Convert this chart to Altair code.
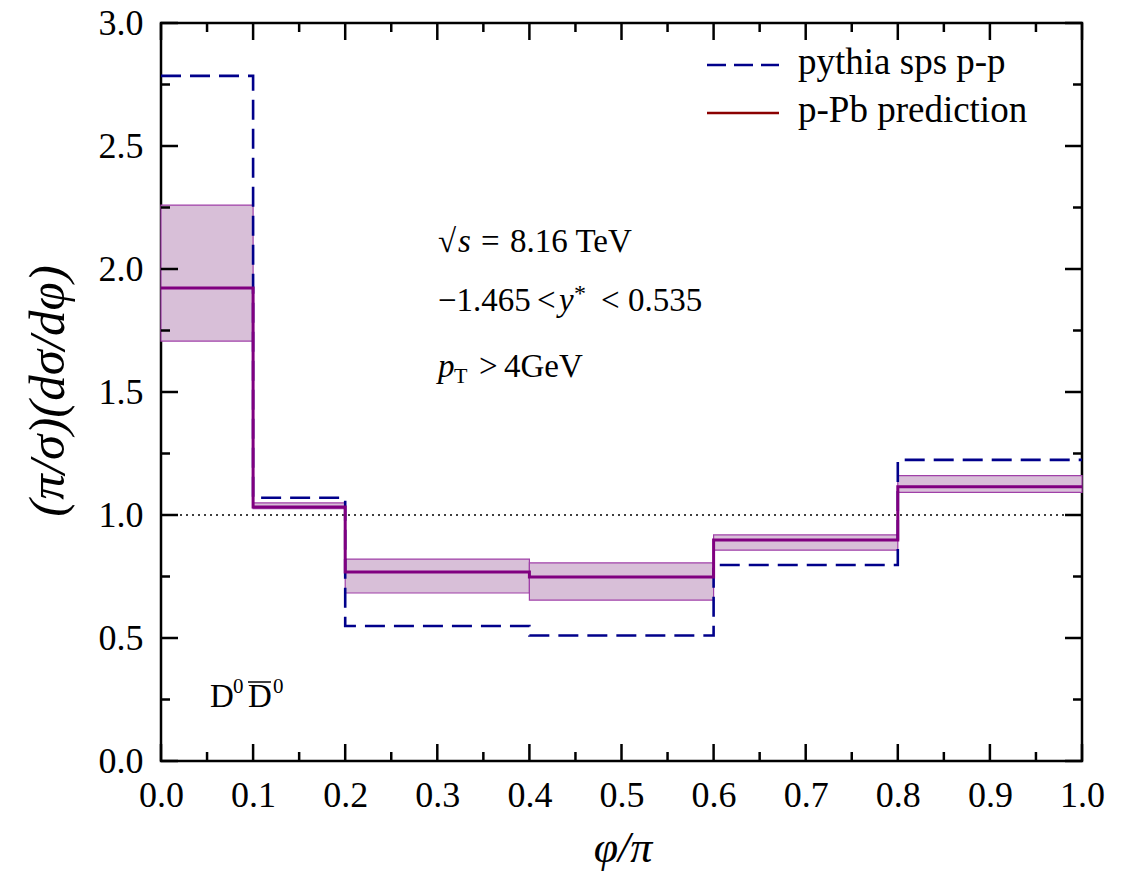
import altair as alt
import pandas as pd

# ---- data ----
edges = [0.0, 0.1, 0.2, 0.4, 0.6, 0.8, 1.0]
pythia = [2.785, 1.07, 0.549, 0.51, 0.797, 1.224]
pred = [1.923, 1.033, 0.768, 0.748, 0.898, 1.115]
pred_lo = [1.707, 1.026, 0.683, 0.654, 0.857, 1.092]
pred_hi = [2.26, 1.049, 0.821, 0.805, 0.919, 1.16]

x_ticks = [0.0, 0.1, 0.2, 0.3, 0.4, 0.5, 0.6, 0.7, 0.8, 0.9, 1.0]
x_minor = [0.05, 0.15, 0.25, 0.35, 0.45, 0.55, 0.65, 0.75, 0.85, 0.95]
y_ticks = [0.0, 0.5, 1.0, 1.5, 2.0, 2.5, 3.0]
y_minor = [0.25, 0.75, 1.25, 1.75, 2.25, 2.75]

x_title = "φ/π"
y_title = "(π/σ)(dσ/dφ)"

W, H = 921, 738
FONT = "Liberation Serif"
BLUE = "#00008b"
PURPLE = "#800080"
EDGE = "#a040a8"
FILL = "#d8bfd8"
DARKRED = "#8b0000"

xs = alt.Scale(domain=[0, 1], nice=False, zero=False)
ys = alt.Scale(domain=[0, 3], nice=False, zero=False)

bins = pd.DataFrame({"x0": edges[:-1], "x1": edges[1:], "lo": pred_lo, "hi": pred_hi})
step_py = pd.DataFrame({"x": edges, "y": pythia + [pythia[-1]]})
step_pr = pd.DataFrame({"x": edges, "y": pred + [pred[-1]]})

band = alt.Chart(bins).mark_rect(fill=FILL, stroke=EDGE, strokeWidth=1.2).encode(
    x=alt.X("x0:Q", scale=xs, axis=alt.Axis(
        values=x_ticks, format=".1f", title="", grid=False, ticks=False, tickSize=0,
        domain=False, labelFlush=False, labelFont=FONT, labelFontSize=36,
        labelColor="black", labelPadding=17)),
    x2="x1:Q",
    y=alt.Y("lo:Q", scale=ys, axis=alt.Axis(
        values=y_ticks, format=".1f", title="", grid=False, ticks=False,
        tickSize=0, domain=False, labelFlush=False, labelFont=FONT, labelFontSize=36,
        labelColor="black", labelPadding=18)),
    y2="hi:Q",
)

unity = alt.Chart(pd.DataFrame({"v": [1.0]})).mark_rule(
    color="black", strokeWidth=1.3, strokeDash=[2, 4]).encode(y=alt.Y("v:Q", scale=ys))

line_py = alt.Chart(step_py).mark_line(
    color=BLUE, strokeWidth=2.6, strokeDash=[20, 9], interpolate="step-after").encode(
    x=alt.X("x:Q", scale=xs), y=alt.Y("y:Q", scale=ys))

line_pr = alt.Chart(step_pr).mark_line(
    color=PURPLE, strokeWidth=3, interpolate="step-after").encode(
    x=alt.X("x:Q", scale=xs), y=alt.Y("y:Q", scale=ys))

# ---- inward ticks on all four sides ----
def yt(vals, length, side):
    d = pd.DataFrame({"v": vals})
    if side == "left":
        a, b = 0, length
    else:
        a, b = W, W - length
    return alt.Chart(d).mark_rule(color="black", strokeWidth=2.5).encode(
        y=alt.Y("v:Q", scale=ys), x=alt.value(a), x2=alt.value(b))

def xt(vals, length, side):
    d = pd.DataFrame({"v": vals})
    if side == "bottom":
        a, b = H, H - length
    else:
        a, b = 0, length
    return alt.Chart(d).mark_rule(color="black", strokeWidth=2.5).encode(
        x=alt.X("v:Q", scale=xs), y=alt.value(a), y2=alt.value(b))

ticks = [yt(y_ticks, 17, "left"), yt(y_minor, 9, "left"),
         yt(y_ticks, 17, "right"), yt(y_minor, 9, "right"),
         xt(x_ticks, 17, "bottom"), xt(x_minor, 9, "bottom"),
         xt(x_ticks, 17, "top"), xt(x_minor, 9, "top")]

# ---- legend ----
one = pd.DataFrame({"a": [0]})
leg_py = alt.Chart(one).mark_rule(color=BLUE, strokeWidth=2.6, strokeDash=[19, 8]).encode(
    x=alt.value(546), x2=alt.value(618), y=alt.value(42))
leg_pr = alt.Chart(one).mark_rule(color=DARKRED, strokeWidth=2.6).encode(
    x=alt.value(546), x2=alt.value(618), y=alt.value(90))

def txt(s, x, y, size=33, style="normal", baseline="alphabetic", align="left", angle=0):
    return alt.Chart(pd.DataFrame({"t": [s]})).mark_text(
        align=align, baseline=baseline, font=FONT, fontSize=size, fontStyle=style,
        fontWeight="normal", angle=angle, color="black").encode(
        x=alt.value(x), y=alt.value(y), text="t:N")

labels = [
    # axis titles
    txt(x_title, 462, 839, 44, "italic", "alphabetic", "center"),
    txt(y_title, -112, 368, 51, "italic", "middle", "center", 270),
    # legend texts
    txt("pythia sps p-p", 637, 51, 37),
    txt("p-Pb prediction", 637, 99, 37),
    # sqrt(s) = 8.16 TeV
    txt("√", 277, 229, 33),
    txt("s", 297, 229, 33, "italic"),
    txt("=", 320, 229, 33),
    txt("8.16 TeV", 349, 229, 33),
    # -1.465 < y* < 0.535
    txt("−1.465", 277, 288, 33),
    txt("<", 376, 288, 33),
    txt("y", 398, 288, 33, "italic"),
    txt("*", 413, 278, 24),
    txt("<", 440, 288, 33),
    txt("0.535", 467, 288, 33),
    # pT > 4GeV
    txt("p", 277, 354, 33, "italic"),
    txt("T", 293, 360, 22),
    txt(">", 318, 354, 33),
    txt("4GeV", 343, 354, 33),
    # D0 D0bar
    txt("D", 49, 684, 33),
    txt("0", 72, 670, 21),
    txt("D", 87, 684, 33),
    txt("0", 112, 670, 21),
]
overline = alt.Chart(one).mark_rule(color="black", strokeWidth=1.5).encode(
    x=alt.value(87), x2=alt.value(110), y=alt.value(659))

chart = alt.layer(band, unity, line_py, line_pr, *ticks, leg_py, leg_pr, *labels, overline).properties(
    width=W, height=H,
    autosize=alt.AutoSizeParams(type="none"),
    padding={"left": 153, "top": 15, "right": 40, "bottom": 116},
).configure_view(stroke="black", strokeWidth=2.5)

chart.save("out.html", embed_options={"renderer": "svg", "actions": False})
